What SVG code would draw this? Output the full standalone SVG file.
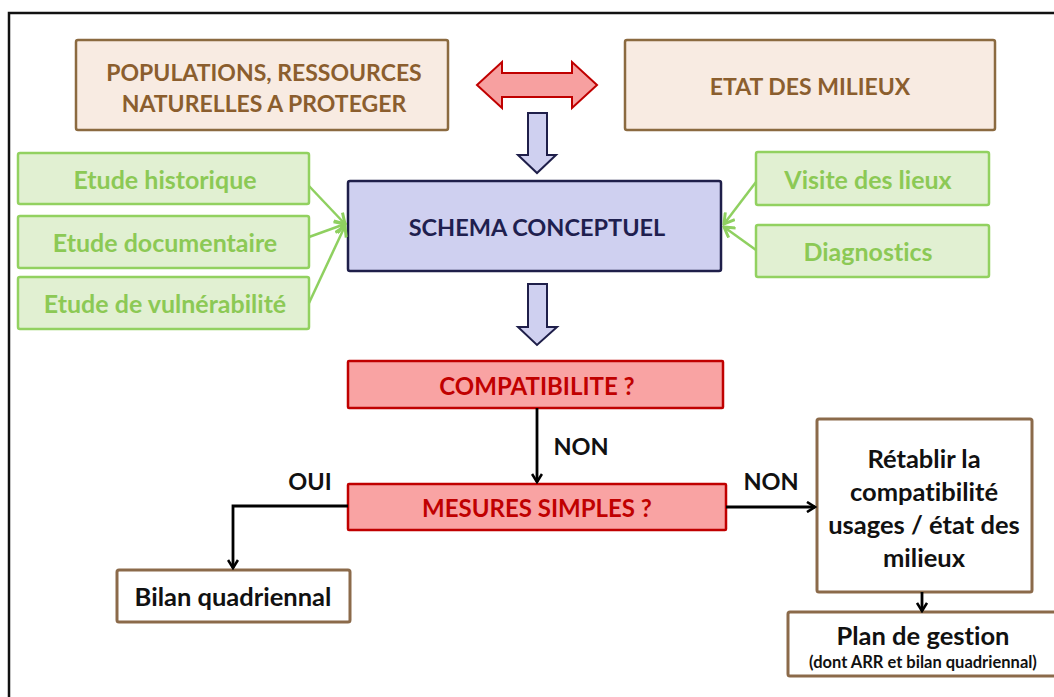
<svg xmlns="http://www.w3.org/2000/svg" width="1054" height="697" viewBox="0 0 1054 697">
<defs>
<marker id="blk" viewBox="0 0 12 12" refX="10" refY="6" markerWidth="12" markerHeight="12" markerUnits="userSpaceOnUse" orient="auto">
<path d="M2,1 L10,6 L2,11" fill="none" stroke="#000" stroke-width="2.6"/>
</marker>
<marker id="grn" viewBox="0 0 14 14" refX="12" refY="7" markerWidth="14" markerHeight="14" markerUnits="userSpaceOnUse" orient="auto">
<path d="M2,1 L12,7 L2,13" fill="none" stroke="#8fd060" stroke-width="3"/>
</marker>
</defs>
<style>
text{font-family:Lato,"Liberation Sans",sans-serif;font-weight:bold;text-anchor:middle;dominant-baseline:central;font-variant-ligatures:none}
.brown{fill:#f8ebe2;stroke:#8b6a40;stroke-width:2.5}
.btxt{fill:#8b5e2e;font-size:23px}
.green{fill:#e1f0d2;stroke:#92d160;stroke-width:2.5}
.gtxt{fill:#8cc955;font-size:25px}
.red{fill:#f9a3a3;stroke:#c00000;stroke-width:2.5}
.rtxt{fill:#c00000;font-size:24px}
.white{fill:#fff;stroke:#8b6a4a;stroke-width:3}
.ktxt{fill:#111;font-size:25.5px}
.lbl{fill:#111;font-size:23.5px}
.conn{fill:none;stroke:#000;stroke-width:2.8}
.gconn{fill:none;stroke:#8fd060;stroke-width:2.5}
</style>
<rect x="0" y="0" width="1054" height="697" fill="#fff"/>
<path d="M9,697 L9,13 L1054,13" fill="none" stroke="#111" stroke-width="2.5"/>

<g id="populations">
<rect class="brown" x="76" y="40" width="372" height="90" rx="2"/>
<text class="btxt" x="264" y="72">POPULATIONS, RESSOURCES</text>
<text class="btxt" x="264" y="103">NATURELLES A PROTEGER</text>
</g>
<g id="etat-milieux">
<rect class="brown" x="625" y="40" width="370" height="90" rx="2"/>
<text class="btxt" x="810" y="86">ETAT DES MILIEUX</text>
</g>
<g id="double-arrow">
<polygon points="477,85 502,62 502,73 572,73 572,62 597,85 572,108 572,97 502,97 502,108" fill="#f7a0a0" stroke="#c00000" stroke-width="2"/>
</g>
<g id="down-arrow-1">
<polygon points="528,113 547,113 547,155 556,155 537,173 518,155 528,155" fill="#cfd0f0" stroke="#1f1f4a" stroke-width="2"/>
</g>
<g id="schema">
<rect x="348" y="181" width="373" height="90" rx="2" fill="#cfd0f0" stroke="#1f1f4a" stroke-width="2.5"/>
<text x="537" y="227" fill="#1f1f4f" font-size="23.5px">SCHEMA CONCEPTUEL</text>
</g>
<g id="etude-historique">
<rect class="green" x="18" y="153" width="291" height="51" rx="2"/>
<text class="gtxt" x="165" y="179">Etude historique</text>
</g>
<g id="etude-documentaire">
<rect class="green" x="18" y="216" width="291" height="52" rx="2"/>
<text class="gtxt" x="165" y="242">Etude documentaire</text>
</g>
<g id="etude-vulnerabilite">
<rect class="green" x="18" y="277" width="291" height="52" rx="2"/>
<text class="gtxt" x="165" y="303">Etude de vulnérabilité</text>
</g>
<g id="visite-lieux">
<rect class="green" x="756" y="152" width="233" height="53" rx="2"/>
<text class="gtxt" x="868" y="179">Visite des lieux</text>
</g>
<g id="diagnostics">
<rect class="green" x="756" y="225" width="233" height="52" rx="2"/>
<text class="gtxt" x="868" y="251">Diagnostics</text>
</g>
<g id="down-arrow-2">
<polygon points="528,284 547,284 547,327 557,327 537,345 518,327 528,327" fill="#cfd0f0" stroke="#1f1f4a" stroke-width="2"/>
</g>
<g id="compatibilite">
<rect class="red" x="348" y="361" width="375" height="47" rx="1"/>
<text class="rtxt" x="537" y="385">COMPATIBILITE ?</text>
</g>
<g id="mesures-simples">
<rect class="red" x="348" y="484" width="378" height="46" rx="1"/>
<text class="rtxt" x="537" y="507">MESURES SIMPLES ?</text>
</g>
<g id="bilan">
<rect class="white" x="117" y="570" width="233" height="52" rx="2"/>
<text class="ktxt" x="233" y="596">Bilan quadriennal</text>
</g>
<g id="retablir">
<rect class="white" x="817" y="419" width="215" height="173" rx="2"/>
<text class="ktxt" x="924" y="458">Rétablir la</text>
<text class="ktxt" x="924" y="491">compatibilité</text>
<text class="ktxt" x="924" y="524">usages / état des</text>
<text class="ktxt" x="924" y="557">milieux</text>
</g>
<g id="plan-gestion">
<rect class="white" x="788" y="612" width="280" height="64" rx="2"/>
<text class="ktxt" x="923" y="635">Plan de gestion</text>
<text x="923" y="662" fill="#111" font-size="16.5px">(dont ARR et bilan quadriennal)</text>
</g>

<g id="connectors">
<line class="gconn" x1="309" y1="186" x2="345" y2="224" marker-end="url(#grn)"/>
<line class="gconn" x1="309" y1="237" x2="345" y2="224" marker-end="url(#grn)"/>
<line class="gconn" x1="309" y1="303" x2="345" y2="226" marker-end="url(#grn)"/>
<line class="gconn" x1="756" y1="182" x2="724" y2="224" marker-end="url(#grn)"/>
<line class="gconn" x1="756" y1="250" x2="724" y2="227" marker-end="url(#grn)"/>
<line class="conn" x1="537" y1="408" x2="537" y2="482" marker-end="url(#blk)"/>
<polyline class="conn" points="348,506 233,506 233,568" marker-end="url(#blk)"/>
<line class="conn" x1="726" y1="507" x2="815" y2="507" marker-end="url(#blk)"/>
<line class="conn" x1="922" y1="592" x2="922" y2="611" marker-end="url(#blk)"/>
<text class="lbl" x="581" y="446">NON</text>
<text class="lbl" x="310" y="481">OUI</text>
<text class="lbl" x="771" y="481">NON</text>
</g>
</svg>
